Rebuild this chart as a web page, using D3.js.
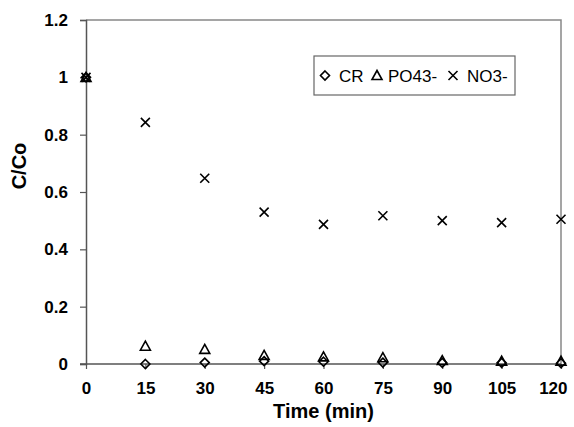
<!DOCTYPE html>
<html>
<head>
  <script src="https://d3js.org/d3.v7.min.js"></script>
  <style>
    body { margin: 0; background: #fff; }
    text { font-family: "Liberation Sans", Arial, sans-serif; }
  </style>
</head>
<body>
  <div id="chart"></div>
  <script>
    const times = [0, 15, 30, 45, 60, 75, 90, 105, 120];
    const cr   = [1, 0, 0.005, 0.01, 0.008, 0.005, 0.004, 0.004, 0.003];
    const po43 = [1, 0.062, 0.051, 0.03, 0.025, 0.022, 0.012, 0.01, 0.01];
    const no3  = [1, 0.843, 0.648, 0.53, 0.487, 0.517, 0.50, 0.493, 0.505];
    const yTicks = [0, 0.2, 0.4, 0.6, 0.8, 1, 1.2];

    const width = 574, height = 427;
    const m = {top: 20, right: 13, bottom: 63, left: 86};

    const svg = d3.select("#chart").append("svg")
      .attr("width", width).attr("height", height);

    const x = d3.scaleLinear().domain([0, 120]).range([m.left, width - m.right]);
    const y = d3.scaleLinear().domain([0, 1.2]).range([height - m.bottom, m.top]);

    // frame (top and right)
    svg.append("path")
      .attr("d", `M${x(0)},${y(1.2)}H${x(120)}V${y(0)}`)
      .attr("fill", "none").attr("stroke", "#888").attr("stroke-width", 1.5);

    const yAxis = svg.append("g")
      .attr("transform", `translate(${x(0)},0)`)
      .call(d3.axisLeft(y).tickValues(yTicks).tickSize(6).tickPadding(12)
        .tickFormat(d => d3.format("~g")(d)));
    const xAxis = svg.append("g")
      .attr("transform", `translate(0,${y(0)})`)
      .call(d3.axisBottom(x).tickValues(times).tickSize(5).tickPadding(13));

    [yAxis, xAxis].forEach(g => {
      g.select(".domain").attr("stroke", "#555").attr("stroke-width", 1.5);
      g.selectAll(".tick line").attr("stroke", "#555").attr("stroke-width", 1.2);
      g.selectAll(".tick text").attr("fill", "#000")
        .style("font-size", "17px").style("font-weight", "bold")
        .style("font-family", "'Liberation Sans', Arial, sans-serif");
    });
    xAxis.select(".domain").attr("d", `M${x(0) - 6},0H${x(120)}`);
    // keep the last label inside the picture
    xAxis.selectAll(".tick text").filter(d => d === 120)
      .attr("text-anchor", "end").attr("dx", 6);

    const diamond = "M0,-4.5L4.5,0L0,4.5L-4.5,0Z";
    const triangle = "M0,-5L5,4L-5,4Z";
    const cross = "M-4.5,-4.5L4.5,4.5M4.5,-4.5L-4.5,4.5";

    const series = [
      {name: "CR", values: cr, path: diamond},
      {name: "PO43-", values: po43, path: triangle},
      {name: "NO3-", values: no3, path: cross}
    ];

    series.forEach(s => {
      svg.append("g").selectAll("path")
        .data(s.values)
        .join("path")
        .attr("transform", (d, i) => `translate(${x(times[i])},${y(d)})`)
        .attr("d", s.path)
        .attr("fill", "none").attr("stroke", "#000").attr("stroke-width", 1.6);
    });

    // legend
    const lg = svg.append("g").attr("transform", "translate(314,56)");
    lg.append("rect").attr("width", 201).attr("height", 39)
      .attr("fill", "#fff").attr("stroke", "#666").attr("stroke-width", 1.2);
    const lx = [11, 63, 139];
    const tx = [25, 74, 153];
    series.forEach((s, i) => {
      lg.append("path").attr("d", s.path)
        .attr("transform", `translate(${lx[i]},19.5)`)
        .attr("fill", "none").attr("stroke", "#000").attr("stroke-width", 1.6);
      lg.append("text").attr("x", tx[i]).attr("y", 25.5)
        .style("font-size", "17px").text(s.name);
    });

    // axis titles
    svg.append("text").attr("x", x(60)).attr("y", 418)
      .attr("text-anchor", "middle").style("font-size", "20px").style("font-weight", "bold")
      .text("Time (min)");
    svg.append("text")
      .attr("transform", `translate(26,166) rotate(-90)`)
      .attr("text-anchor", "middle").style("font-size", "20px").style("font-weight", "bold")
      .text("C/Co");
  </script>
</body>
</html>
